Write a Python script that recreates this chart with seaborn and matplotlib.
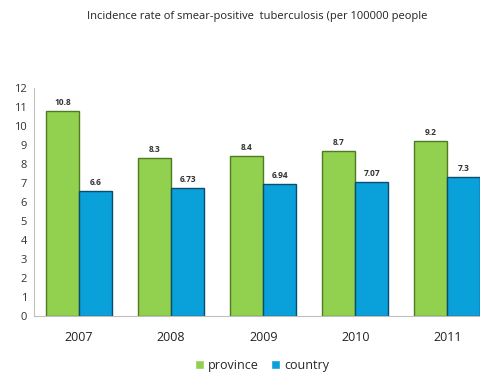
import matplotlib
matplotlib.use("Agg")
import matplotlib.pyplot as plt
import seaborn as sns
import pandas as pd

years = ["2007", "2008", "2009", "2010", "2011"]
province = [10.8, 8.3, 8.4, 8.7, 9.2]
country = [6.6, 6.73, 6.94, 7.07, 7.3]
series_names = ["province", "country"]
y_ticks = list(range(0, 13))

df = pd.DataFrame({
    "year": years * 2,
    "rate": province + country,
    "area": [series_names[0]] * len(years) + [series_names[1]] * len(years),
})

sns.set_theme(style="white")
plt.rcParams["font.family"] = ["Open Sans", "DejaVu Sans"]

fig = plt.figure(figsize=(4.81, 3.76), dpi=100)
ax = fig.add_axes([0.0707, 0.1596, 0.93, 0.606])

palette = {"province": "#92D050", "country": "#0AA0DA"}
edges = {"province": "#4E7A22", "country": "#0A4E6E"}

sns.barplot(data=df, x="year", y="rate", hue="area", palette=palette,
            width=0.72, gap=0, ax=ax, legend=True, saturation=1)

for container, name in zip(ax.containers, series_names):
    for bar in container:
        bar.set_edgecolor(edges[name])
        bar.set_linewidth(1.0)
    vals = province if name == "province" else country
    ax.bar_label(container, labels=[f"{v:g}" for v in vals], padding=3,
                 fontsize=6, fontweight="bold", color="#333333")

ax.set_ylim(0, 12)
ax.set_xlim(-0.49, 4.37)
ax.set_yticks(y_ticks)
ax.set_yticklabels([str(t) for t in y_ticks], fontsize=8, color="#333333")
ax.tick_params(axis="x", labelsize=9, colors="#222222", pad=11, length=0)
ax.tick_params(axis="y", length=0, pad=5)
ax.set_xlabel("")
ax.set_ylabel("")

for side in ["top", "right"]:
    ax.spines[side].set_visible(False)
for side in ["left", "bottom"]:
    ax.spines[side].set_color("#BFBFBF")
    ax.spines[side].set_linewidth(0.8)

handles, labels = ax.get_legend_handles_labels()
ax.get_legend().remove()
fig.legend(handles, labels, loc="center", bbox_to_anchor=(0.545, 0.028),
           ncol=2, frameon=False, fontsize=9, handlelength=0.7,
           handleheight=0.7, handletextpad=0.3, columnspacing=1.0)

fig.text(0.535, 0.955, "Incidence rate of smear-positive  tuberculosis (per 100000 people",
         ha="center", va="center", fontsize=8, color="#222222")

fig.savefig("out.png", dpi=100)
